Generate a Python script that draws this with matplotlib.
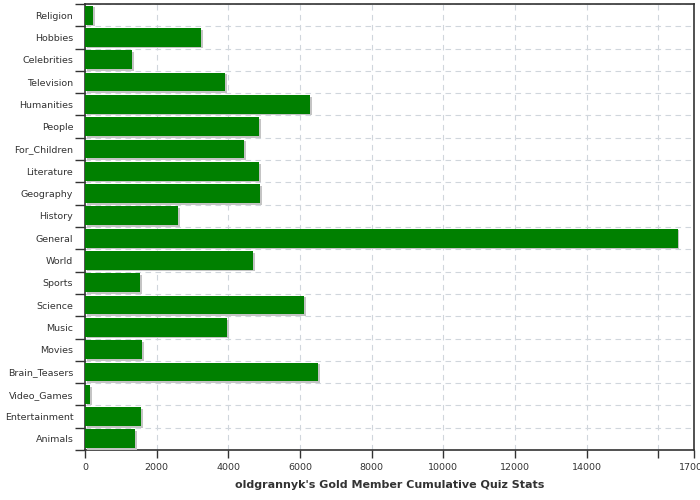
import matplotlib
matplotlib.use("Agg")
import matplotlib.pyplot as plt
import matplotlib.patheffects as pe
import numpy as np

categories = ["Religion", "Hobbies", "Celebrities", "Television", "Humanities",
              "People", "For_Children", "Literature", "Geography", "History",
              "General", "World", "Sports", "Science", "Music", "Movies",
              "Brain_Teasers", "Video_Games", "Entertainment", "Animals"]
values = [230, 3240, 1320, 3910, 6285, 4860, 4440, 4860, 4890, 2600,
          16540, 4690, 1540, 6120, 3965, 1590, 6500, 140, 1565, 1400]
x_ticks = [0, 2000, 4000, 6000, 8000, 10000, 12000, 14000, 16000, 17000]
x_tick_labels = ["0", "2000", "4000", "6000", "8000", "10000", "12000", "14000", "", "17000"]

fig = plt.figure(figsize=(7, 5), dpi=100)
ax = fig.add_axes([85 / 700, 50 / 500, 609 / 700, 446 / 500])

n = len(categories)
pos = np.arange(n)
bars = ax.barh(pos, values, height=0.84, color="#008000", zorder=3)
for b in bars:
    b.set_path_effects([pe.SimplePatchShadow(offset=(1.2, -1.2), shadow_rgbFace="#c4c4c4", alpha=1.0),
                        pe.Normal()])

ax.set_ylim(n - 0.5, -0.5)
ax.set_xlim(0, 17000)

ax.set_yticks(pos)
ax.set_yticklabels(categories)
ax.set_yticks(np.arange(n + 1) - 0.5, minor=True)
ax.tick_params(axis="y", which="major", length=0, pad=8.4, labelsize=6.8, labelcolor="#333333")
ax.tick_params(axis="y", which="minor", length=7.2, width=1, color="#333333")

ax.set_xticks(x_ticks)
ax.set_xticklabels(x_tick_labels)
ax.tick_params(axis="x", length=6, width=1, color="#333333", labelsize=6.8, labelcolor="#333333", pad=3)

ax.grid(axis="y", which="minor", color="#d0d6dc", linestyle=(0, (5, 4)), linewidth=0.8, zorder=0)
ax.grid(axis="x", which="major", color="#d0d6dc", linestyle=(0, (5, 4)), linewidth=0.8, zorder=0)
ax.set_axisbelow(True)

for s in ax.spines.values():
    s.set_color("#333333")
    s.set_linewidth(1.2)

ax.set_xlabel("oldgrannyk's Gold Member Cumulative Quiz Stats", fontsize=8, fontweight="bold",
              color="#333333", labelpad=6, ha="center", x=0.5)

fig.savefig("out.png", dpi=100)
